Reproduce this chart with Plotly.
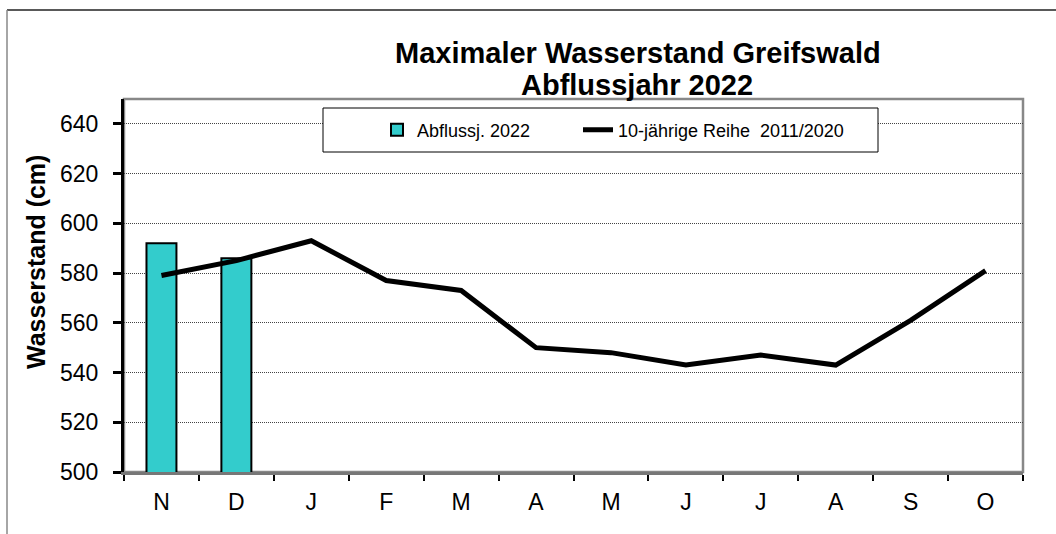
import plotly.graph_objects as go

# Monate (Abflussjahr Nov - Okt); Leerzeichen halten doppelte Kategorien auseinander
months = ["N", "D", "J", "F", "M", "A", "M ", "J ", "J  ", "A ", "S", "O"]
month_labels = ["N", "D", "J", "F", "M", "A", "M", "J", "J", "A", "S", "O"]

# Maximaler Wasserstand Abflussjahr 2022 (nur Nov, Dez vorhanden)
max_2022 = [592, 586]

# 10-jährige Reihe 2011/2020
mean_2011_2020 = [579, 585, 593, 577, 573, 550, 548, 543, 547, 543, 561, 581]

y_ticks = [500, 520, 540, 560, 580, 600, 620, 640]

FONT = "Arial, Liberation Sans, sans-serif"

# Pixel-Geometrie des Plotbereichs
W, H = 1056, 534
L, R, T, B = 124, 33, 99, 62
pw, ph = W - L - R, H - T - B


def px_x(x):
    return (x - L) / pw


def px_y(y):
    return (H - B - y) / ph


def legend_at(x):
    # je Eintrag eine eigene Legende, damit die Abstände wie im Original sind
    return dict(
        orientation="h",
        x=px_x(x), xanchor="left",
        y=px_y(130), yanchor="middle",
        bgcolor="rgba(0,0,0,0)",
        borderwidth=0,
        font=dict(size=18),
    )


fig = go.Figure()

fig.add_trace(go.Bar(
    x=months[:len(max_2022)],
    y=max_2022,
    name="Abflussj. 2022",
    width=0.4,
    marker=dict(color="#33CCCC", line=dict(color="black", width=2)),
    legend="legend",
))

fig.add_trace(go.Scatter(
    x=months,
    y=mean_2011_2020,
    name="10-jährige Reihe  2011/2020",
    mode="lines",
    line=dict(color="black", width=5),
    legend="legend2",
))

fig.update_layout(
    width=W,
    height=H,
    margin=dict(l=L, r=R, t=T, b=B, pad=0),
    paper_bgcolor="white",
    plot_bgcolor="white",
    font=dict(family=FONT, color="black"),
    showlegend=True,
    legend=legend_at(377),
    legend2=legend_at(578),
    shapes=[
        # äußerer Diagrammrahmen (rechts und unten abgeschnitten)
        dict(type="line", xref="paper", yref="paper",
             x0=px_x(7), x1=px_x(1070), y0=px_y(10), y1=px_y(10),
             line=dict(color="#222222", width=1.5)),
        dict(type="line", xref="paper", yref="paper",
             x0=px_x(7), x1=px_x(7), y0=px_y(10), y1=px_y(545),
             line=dict(color="#888888", width=1.5)),
        # Rahmen des Plotbereichs
        dict(type="rect", xref="paper", yref="paper", x0=0, x1=1, y0=0, y1=1,
             line=dict(color="#888888", width=2.5), layer="below"),
        # Legendenrahmen
        dict(type="rect", xref="paper", yref="paper",
             x0=px_x(323), x1=px_x(878), y0=px_y(108), y1=px_y(152),
             line=dict(color="black", width=1), fillcolor="white", layer="above"),
    ],
    annotations=[
        dict(text="<b>Maximaler Wasserstand Greifswald</b>",
             xref="paper", yref="paper", x=px_x(638), y=px_y(53),
             xanchor="center", yanchor="middle", showarrow=False,
             font=dict(size=29, family=FONT)),
        dict(text="<b>Abflussjahr 2022</b>",
             xref="paper", yref="paper", x=px_x(637), y=px_y(85),
             xanchor="center", yanchor="middle", showarrow=False,
             font=dict(size=29, family=FONT)),
        # y-Achsentitel, wie im Original etwas oberhalb der Mitte
        dict(text="<b>Wasserstand (cm)</b>",
             xref="paper", yref="paper", x=px_x(36), y=px_y(262),
             xanchor="center", yanchor="middle", showarrow=False,
             textangle=-90, font=dict(size=25, family=FONT)),
    ],
)

fig.update_xaxes(
    type="category",
    tickvals=months,
    ticktext=month_labels,
    tickson="boundaries",
    ticks="outside",
    ticklen=6,
    tickwidth=1.5,
    tickcolor="black",
    ticklabelstandoff=8,
    showline=True,
    linecolor="#777777",
    linewidth=2.5,
    showgrid=False,
    tickfont=dict(size=23),
    range=[-0.5, 11.5],
)

fig.update_yaxes(
    range=[500, 650],
    tickvals=y_ticks,
    ticks="outside",
    ticklen=8,
    tickwidth=2.5,
    tickcolor="black",
    ticklabelstandoff=10,
    showline=True,
    linecolor="black",
    linewidth=3,
    showgrid=True,
    gridcolor="#444444",
    gridwidth=1,
    griddash="1px,1px",
    zeroline=False,
    tickfont=dict(size=23),
)

# Browser-Standardrand entfernen, damit die Grafik bei (0, 0) beginnt
fig.write_html(
    "out.html",
    config={"displayModeBar": False},
    post_script="document.body.style.margin='0';",
)
